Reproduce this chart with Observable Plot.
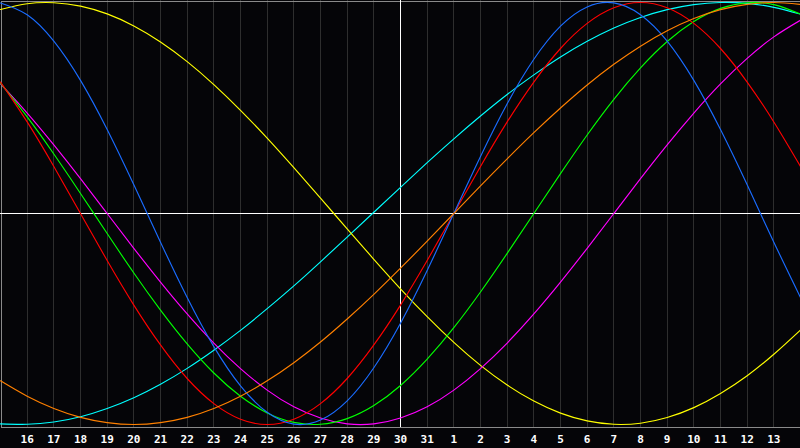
<!DOCTYPE html>
<html>
<head>
<meta charset="utf-8">
<script src="https://cdn.jsdelivr.net/npm/d3@7"></script>
<script src="https://cdn.jsdelivr.net/npm/@observablehq/plot@0.6"></script>
<style>
  html, body { margin: 0; padding: 0; background: #050508; }
  #chart svg { display: block; }
</style>
</head>
<body>
<div id="chart"></div>
<script>
// Day labels for each column (index 0..30)
const days = [15,16,17,18,19,20,21,22,23,24,25,26,27,28,29,30,31,1,2,3,4,5,6,7,8,9,10,11,12,13,14];
// Tick positions shown on the axis
const tickIdx = [1,2,3,4,5,6,7,8,9,10,11,12,13,14,15,16,17,18,19,20,21,22,23,24,25,26,27,28,29];
const todayIdx = 15;

const blue = [0.998,0.942,0.817,0.631,0.398,0.136,-0.136,-0.398,-0.631,-0.817,-0.942,-0.998,-0.979,-0.888,-0.731,-0.520,-0.270,0,0.270,0.520,0.731,0.888,0.979,0.998,0.942,0.817,0.631,0.398,0.136,-0.136,-0.398];
const red = [0.623,0.434,0.223,0,-0.223,-0.434,-0.623,-0.782,-0.901,-0.975,-1,-0.975,-0.901,-0.782,-0.623,-0.434,-0.223,0,0.223,0.434,0.623,0.782,0.901,0.975,1,0.975,0.901,0.782,0.623,0.434,0.223];
const green = [0.618,0.458,0.282,0.095,-0.095,-0.282,-0.458,-0.618,-0.756,-0.866,-0.945,-0.990,-0.999,-0.972,-0.910,-0.815,-0.690,-0.541,-0.372,-0.189,0,0.189,0.372,0.541,0.690,0.815,0.910,0.972,0.999,0.990,0.945];
const magenta = [0.614,0.476,0.325,0.165,0,-0.165,-0.325,-0.476,-0.614,-0.735,-0.837,-0.916,-0.969,-0.997,-0.997,-0.969,-0.916,-0.837,-0.735,-0.614,-0.476,-0.325,-0.165,0,0.165,0.325,0.476,0.614,0.735,0.837,0.916];
const yellow = [0.967,0.994,0.999,0.983,0.946,0.889,0.813,0.720,0.611,0.489,0.357,0.217,0.073,-0.073,-0.217,-0.357,-0.489,-0.611,-0.720,-0.813,-0.889,-0.946,-0.983,-0.999,-0.994,-0.967,-0.920,-0.853,-0.769,-0.667,-0.552];
const orange = [-0.793,-0.866,-0.924,-0.966,-0.991,-1,-0.991,-0.966,-0.924,-0.866,-0.793,-0.707,-0.609,-0.5,-0.383,-0.259,-0.131,0,0.131,0.259,0.383,0.5,0.609,0.707,0.793,0.866,0.924,0.966,0.991,1,0.991];
const cyan = [-0.997,-0.999,-0.988,-0.963,-0.924,-0.873,-0.809,-0.734,-0.648,-0.554,-0.451,-0.343,-0.229,-0.112,0.006,0.124,0.241,0.354,0.462,0.564,0.657,0.742,0.816,0.879,0.929,0.966,0.990,1.000,0.996,0.977,0.945];

const seriesList = [
  {name: "cyan", values: cyan, color: "#00ffff"},
  {name: "yellow", values: yellow, color: "#ffff00"},
  {name: "magenta", values: magenta, color: "#ff00ff"},
  {name: "green", values: green, color: "#00ff00"},
  {name: "red", values: red, color: "#ff0000"},
  {name: "blue", values: blue, color: "#1a6cff"},
  {name: "orange", values: orange, color: "#ff8000"}
];

const rows = seriesList.flatMap(s => s.values.map((v, i) => ({series: s.name, i, v})));

const lines = seriesList.map(s =>
  Plot.line(rows.filter(r => r.series === s.name), {
    x: "i", y: "v", stroke: s.color, strokeWidth: 1.15, curve: "natural"
  })
);

const chart = Plot.plot({
  width: 800,
  height: 448,
  marginTop: 0,
  marginBottom: 21,
  marginLeft: 0,
  marginRight: 0,
  style: {background: "#050508", color: "#ffffff", overflow: "visible"},
  x: {domain: [0, days.length - 1], axis: null, label: null},
  y: {domain: [-1.0142, 1.0095], axis: null, label: null},
  marks: [
    Plot.ruleX(tickIdx, {stroke: "#2e2e2e", strokeWidth: 1, shapeRendering: "crispEdges"}),
    Plot.frame({stroke: "#8a8a8a", inset: 0.5, shapeRendering: "crispEdges"}),
    Plot.ruleY([0], {stroke: "#ffffff", strokeWidth: 1, shapeRendering: "crispEdges"}),
    Plot.ruleX([todayIdx], {stroke: "#ffffff", strokeWidth: 1, shapeRendering: "crispEdges"}),
    ...lines,
    Plot.axisX({
      ticks: tickIdx,
      tickFormat: i => String(days[i]),
      tickSize: 0,
      tickPadding: 8,
      label: null,
      fill: "#ffffff",
      fontSize: 11,
      fontWeight: "bold",
      fontFamily: "DejaVu Sans Mono"
    })
  ]
});
document.getElementById("chart").appendChild(chart);
</script>
</body>
</html>
